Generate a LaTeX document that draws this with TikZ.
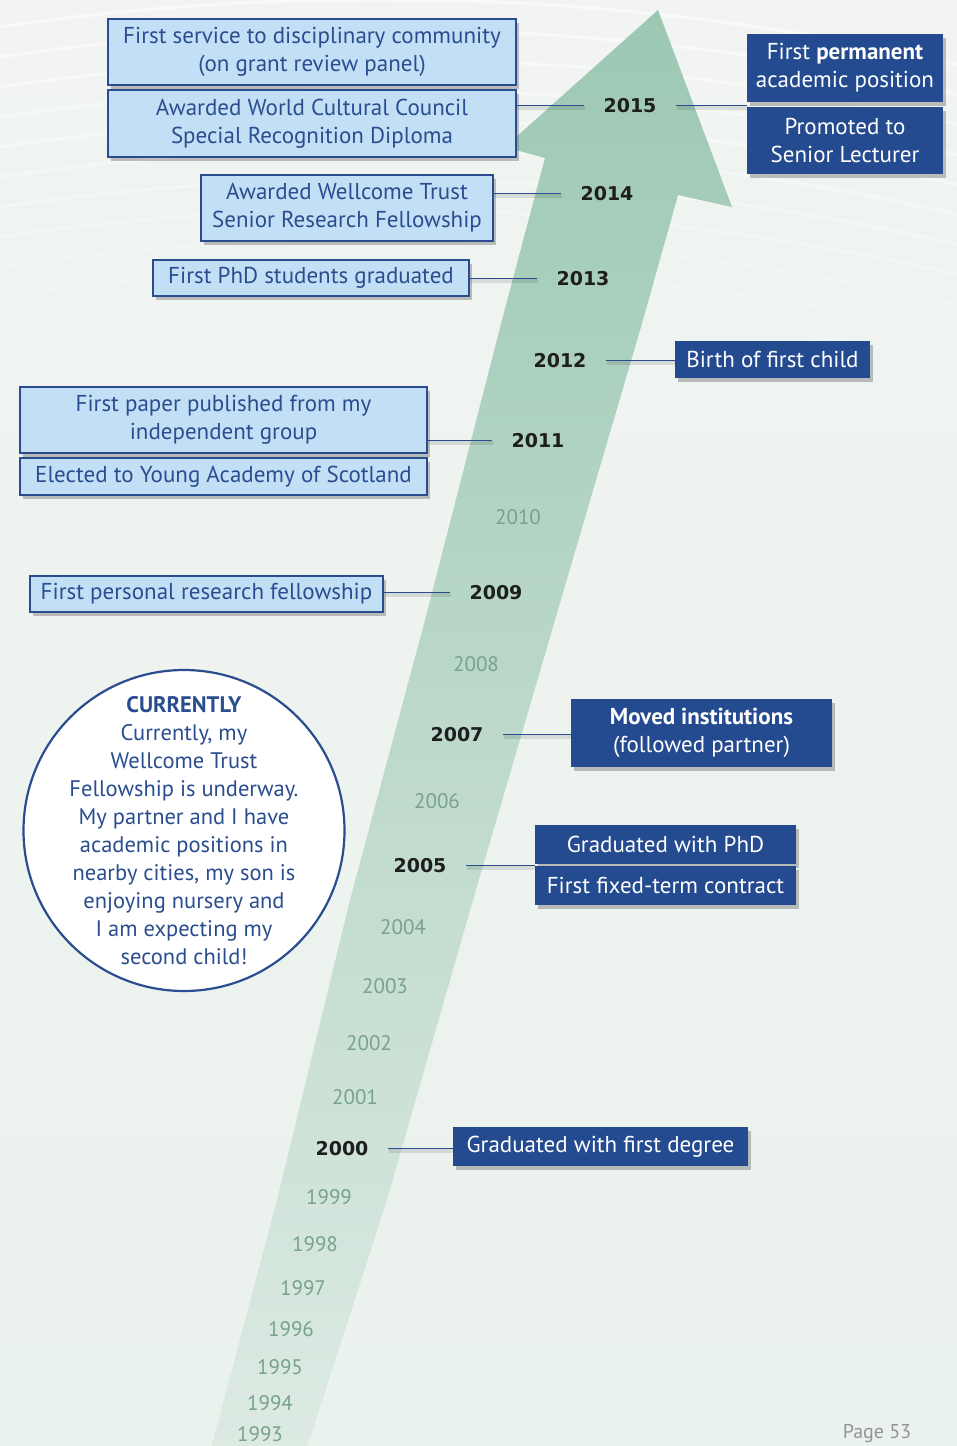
\documentclass[tikz,border=0pt]{standalone}
\usepackage{fontspec}
\setmainfont{PT Sans}
\newfontfamily\yearfont{DejaVu Sans}
\usetikzlibrary{shadows}
\usetikzlibrary{calc}

\definecolor{bgtop}{HTML}{F1F4F2}
\definecolor{bgbot}{HTML}{EAF2ED}
\definecolor{arrowtop}{HTML}{9CC8B3}
\definecolor{arrowmid}{HTML}{BCD9CB}
\definecolor{arrowbot}{HTML}{DDEAE3}
\definecolor{boxblue}{HTML}{2A4D8F}
\definecolor{eventfill}{HTML}{C3DFF5}
\definecolor{darkblue}{HTML}{244A8F}
\definecolor{yeargreen}{HTML}{78A18F}
\definecolor{yeardark}{HTML}{1E1E1E}

\begin{document}
\begin{tikzpicture}[x=1pt, y=-1pt,
event/.style={draw=boxblue, line width=1.3pt, fill=eventfill, text=boxblue, align=center, inner sep=0pt,
  font=\fontsize{23}{28}\selectfont, drop shadow={shadow xshift=3pt, shadow yshift=-4pt, opacity=.4, fill=black!60}},
milestone/.style={fill=darkblue, text=white, align=center, inner sep=0pt,
  font=\fontsize{23}{28}\selectfont, drop shadow={shadow xshift=3pt, shadow yshift=-4pt, opacity=.4, fill=black!60}},
yearbold/.style={text=yeardark, font=\yearfont\bfseries\fontsize{19}{19}\selectfont, minimum width=92, inner sep=0pt, text height=14pt, text depth=0pt},
yearlight/.style={text=yeargreen, font=\fontsize{21}{21}\selectfont, inner sep=0pt},
link/.style={draw=boxblue, line width=1pt, preaction={draw=black, opacity=.1, line width=4pt, transform canvas={xshift=1pt, yshift=-2.5pt}}},
bubble/.style={circle, draw=boxblue, line width=2.2pt, fill=white, minimum size=321, inner sep=0pt},
nowtext/.style={text=boxblue, align=center, font=\fontsize{22.5}{28}\selectfont},
pagelabel/.style={text=black!42, font=\fontsize{20}{20}\selectfont}]

%%%%%% SETTINGS %%%%%%%%%%

\pgfmathtruncatemacro{\pagewidth}{957}
\pgfmathtruncatemacro{\pageheight}{1446}

%%%%%% BACKGROUND %%%%%%%%%%

\useasboundingbox (0,0) rectangle (\pagewidth,\pageheight);
\shade[top color=bgtop, bottom color=bgbot] (0,0) rectangle (\pagewidth,\pageheight);
\foreach \k in {0,...,11}{
  \pgfmathsetmacro{\op}{0.55-0.045*\k}
  \draw[white, opacity=\op, line width=3.5pt] (-20,30+\k*30) .. controls (300,-20+\k*30) and (650,-10+\k*30) .. (980,70+\k*30);
}

% the arrow
\shade[top color=arrowtop, middle color=arrowmid, bottom color=arrowbot]
  (208,1460) -- (277,1200) -- (350,900) -- (425,620) -- (502,320) -- (545,158)
  -- (505,147) -- (658,10) -- (732,207) -- (678,195)
  -- (643,320) -- (555,620) -- (473,900) -- (387,1200) -- (303,1460) -- cycle;

%%%%%% YEARS %%%%%%%%%%

\foreach \yr/\xx/\yy in {2010/518/517, 2008/476/664, 2006/437/801, 2004/403/927, 2003/385/986,
  2002/369/1043, 2001/355/1097, 1999/329/1197, 1998/315/1244, 1997/303/1288,
  1996/291/1329, 1995/280/1367, 1994/270/1403, 1993/260/1434}
  {\node[yearlight] (y\yr) at (\xx,\yy) {\yr};}

\node[yearbold] (y2015) at (630,105) {2015};
\node[yearbold] (y2014) at (607,193) {2014};
\node[yearbold] (y2013) at (583,278) {2013};
\node[yearbold] (y2012) at (560,360) {2012};
\node[yearbold] (y2011) at (538,440) {2011};
\node[yearbold] (y2009) at (496,592) {2009};
\node[yearbold] (y2007) at (457,734) {2007};
\node[yearbold] (y2005) at (420,865) {2005};
\node[yearbold] (y2000) at (342,1148) {2000};

%%%%%% EVENTS %%%%%%%%%%

\node[event, minimum width=408, minimum height=66] (service) at (312,52) {First service to disciplinary community\\(on grant review panel)};
\node[event, minimum width=408, minimum height=67] (diploma) at (312,123.5) {Awarded World Cultural Council\\Special Recognition Diploma};
\node[milestone, minimum width=196, minimum height=68] (permanent) at (845,68) {First \textbf{permanent}\\academic position};
\node[milestone, minimum width=196, minimum height=67] (lecturer) at (845,140.5) {Promoted to\\Senior Lecturer};
\node[event, minimum width=292, minimum height=66] (wellcome) at (347,208) {Awarded Wellcome Trust\\Senior Research Fellowship};
\node[event, minimum width=316, minimum height=36] (phdstudents) at (311,278) {First PhD students graduated};
\node[milestone, minimum width=195, minimum height=37] (child) at (772.5,359.5) {Birth of first child};
\node[event, minimum width=407, minimum height=66] (paper) at (223.5,420) {First paper published from my\\independent group};
\node[event, minimum width=407, minimum height=37] (academy) at (223.5,476.5) {Elected to Young Academy of Scotland};
\node[event, minimum width=353, minimum height=36] (fellowship) at (206.5,594) {First personal research fellowship};
\node[milestone, minimum width=261, minimum height=68] (moved) at (701.5,733) {\textbf{Moved institutions}\\(followed partner)};
\node[milestone, minimum width=261, minimum height=39] (phd) at (665.5,844.5) {Graduated with PhD};
\node[milestone, minimum width=261, minimum height=39] (contract) at (665.5,885.5) {First fixed-term contract};
\node[milestone, minimum width=295, minimum height=39] (degree) at (600.5,1146.5) {Graduated with first degree};

%%%%%% LINKS %%%%%%%%%%

\draw[link] (diploma.east |- y2015.west) -- (y2015.west);
\draw[link] (y2015.east) -- (permanent.west |- y2015.east);
\draw[link] (wellcome.east |- y2014.west) -- (y2014.west);
\draw[link] (phdstudents.east |- y2013.west) -- (y2013.west);
\draw[link] (y2012.east) -- (child.west |- y2012.east);
\draw[link] (paper.east |- y2011.west) -- (y2011.west);
\draw[link] (fellowship.east |- y2009.west) -- (y2009.west);
\draw[link] (y2007.east) -- (moved.west |- y2007.east);
\draw[link] (y2005.east) -- (phd.west |- y2005.east);
\draw[link] (y2000.east) -- (degree.west |- y2000.east);

%%%%%% CURRENTLY %%%%%%%%%%

\node[bubble] (now) at (184,830.5) {};
\node[nowtext] (nowtext) at (now.center) {\textbf{CURRENTLY}\\Currently, my\\Wellcome Trust\\Fellowship is underway.\\My partner and I have\\academic positions in\\nearby cities, my son is\\enjoying nursery and\\I am expecting my\\second child!};

\node[pagelabel] (page) at (877,1434) {Page 53};

\end{tikzpicture}
\end{document}
